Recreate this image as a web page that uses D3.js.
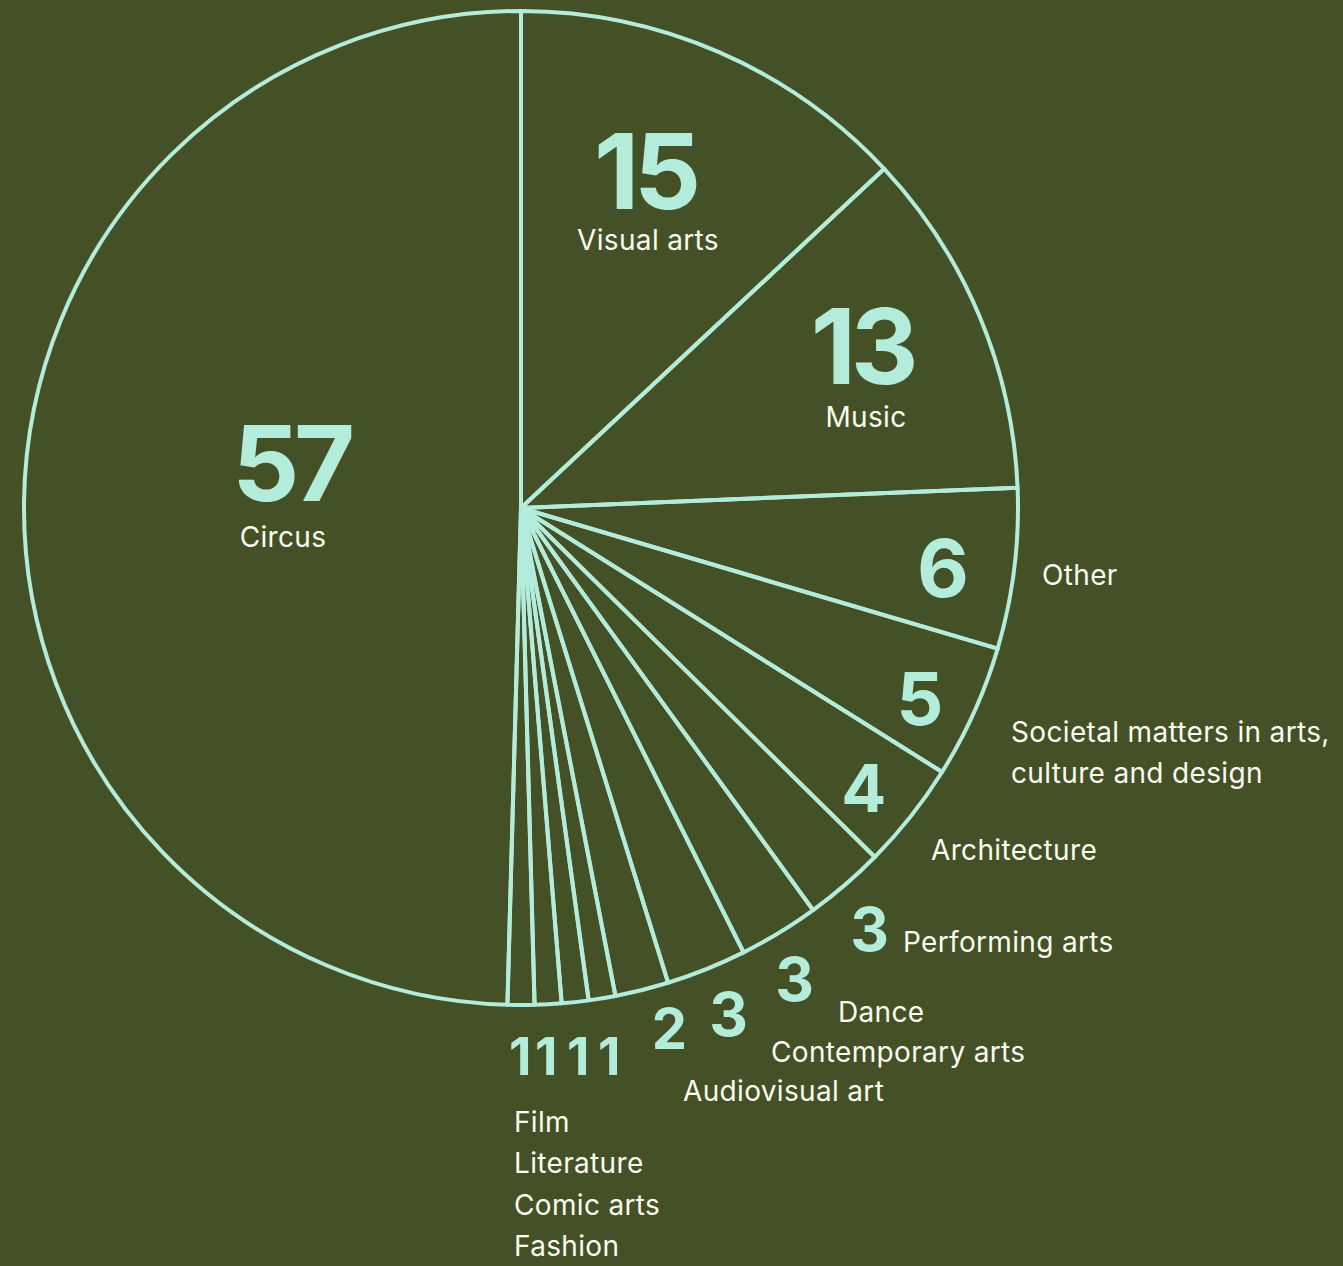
<!DOCTYPE html>
<html>
<head>
    <meta charset="utf-8">
    <script src="https://d3js.org/d3.v7.min.js"></script>
    <style>
        body { margin: 0; background: #445025; }
        .num { font-family: 'Inter', sans-serif; font-weight: 700; fill: #b4ecdc; letter-spacing: -0.05em; }
        .lab { font-family: 'Inter', sans-serif; font-weight: 400; fill: #fbfbf2; font-size: 28px; letter-spacing: 0.012em; }
    </style>
</head>
<body>
<svg id="chart" width="1343" height="1266"></svg>
<script>
    // data, clockwise from 12 o'clock
    const categories = ["Visual arts", "Music", "Other", "Societal matters in arts, culture and design",
        "Architecture", "Performing arts", "Dance", "Contemporary arts", "Audiovisual art",
        "Film", "Literature", "Comic arts", "Fashion", "Circus"];
    const values = [15, 13, 6, 5, 4, 3, 3, 3, 2, 1, 1, 1, 1, 57];
    const labelLines = {
        "Societal matters in arts, culture and design": ["Societal matters in arts,", "culture and design"]
    };

    // hand placed label layout (number x/baseline, label x/baseline, label anchor)
    const layout = {
        "Visual arts": [645, 209, 648, 250, "middle"],
        "Music": [862, 384, 866, 427, "middle"],
        "Other": [941, 597, 1042, 585, "start"],
        "Societal matters in arts, culture and design": [918, 725, 1011, 742, "start"],
        "Architecture": [862, 812, 931, 860, "start"],
        "Performing arts": [868, 951, 903, 952, "start"],
        "Dance": [793, 1001, 838, 1022, "start"],
        "Contemporary arts": [727, 1036, 771, 1062, "start"],
        "Audiovisual art": [668, 1049, 683, 1101, "start"],
        "Film": [519, 1075, 514, 1132, "start"],
        "Literature": [545, 1075, 514, 1173, "start"],
        "Comic arts": [577, 1075, 514, 1215, "start"],
        "Fashion": [608, 1075, 514, 1256, "start"],
        "Circus": [291, 501, 283, 547, "middle"]
    };

    const cx = 521, cy = 508, radius = 497;
    const stroke = "#b4ecdc";

    const svg = d3.select("#chart");

    const data = categories.map((c, i) => ({ name: c, value: values[i] }));

    const pie = d3.pie().sort(null).value(d => d.value);
    const arc = d3.arc().innerRadius(0).outerRadius(radius);

    const g = svg.append("g").attr("transform", "translate(" + cx + "," + cy + ")");

    g.selectAll("path")
        .data(pie(data))
        .enter()
        .append("path")
        .attr("d", arc)
        .attr("fill", "none")
        .attr("stroke", stroke)
        .attr("stroke-width", 4)
        .attr("stroke-linejoin", "round");

    // number size grows with the value, capped for the big slices
    const size = d3.scaleLinear().domain([1, 3, 6, 13]).range([52, 60, 80, 105]).clamp(true);

    data.forEach(d => {
        const p = layout[d.name];
        svg.append("text")
            .attr("class", "num")
            .attr("x", p[0])
            .attr("y", p[1])
            .attr("text-anchor", "middle")
            .style("font-size", size(d.value) + "px")
            .text(d.value);

        const lines = labelLines[d.name] || [d.name];
        const t = svg.append("text")
            .attr("class", "lab")
            .attr("x", p[2])
            .attr("y", p[3])
            .attr("text-anchor", p[4]);
        lines.forEach((l, i) => {
            t.append("tspan").attr("x", p[2]).attr("dy", i ? 41 : 0).text(l);
        });
    });
</script>
</body>
</html>
